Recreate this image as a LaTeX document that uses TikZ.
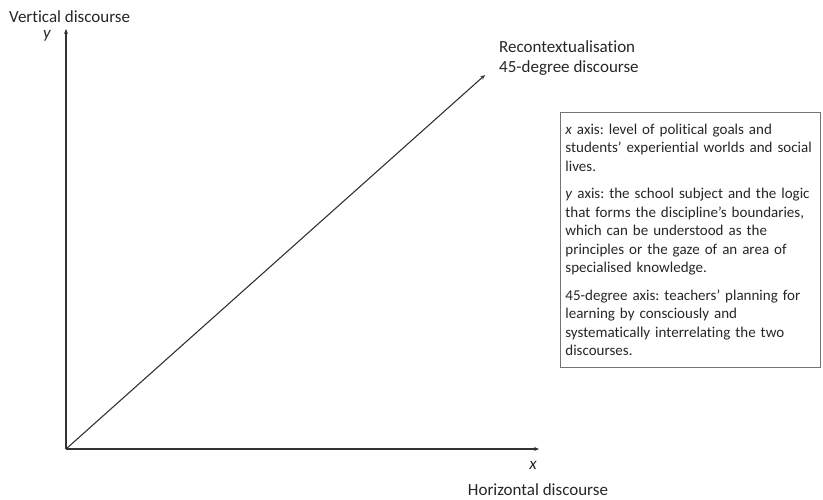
\documentclass[tikz,border=0pt]{standalone}
\usepackage{fontspec}
\setmainfont{Carlito}[Ligatures=NoCommon]
\usetikzlibrary{arrows.meta}
\frenchspacing
\hyphenpenalty=10000
\exhyphenpenalty=10000
\begin{document}
\begin{tikzpicture}[x=1pt,y=-1pt,
  axis/.style={draw=black!80, line width=1.1pt, -{Stealth[length=5pt,width=4pt]}},
  lbl/.style={inner sep=0pt, font=\fontsize{17}{20.7}\selectfont, text=black!85},
  note/.style={draw=black!55, line width=0.8pt, inner xsep=5pt, inner ysep=11.5pt,
    text width=250pt, align=left, anchor=north west,
    font=\fontsize{15}{18.5}\selectfont, text=black!85}]
  \useasboundingbox (0,0) rectangle (823,500);
  \coordinate (o) at (66,449);
  \coordinate (ytop) at (66,29);
  \coordinate (xend) at (539,449);
  \coordinate (dend) at (485,75);
  \draw[axis] (o) -- (ytop);
  \draw[axis] (o) -- (xend);
  \draw[axis] (o) -- (dend);
  \node[lbl, anchor=west] (vert) at (9,17) {Vertical discourse};
  \node[lbl, anchor=center] (ylab) at (47,36) {\itshape y};
  \node[lbl, anchor=center] (xlab) at (533,465) {\itshape x};
  \node[lbl, anchor=center] (horiz) at (538,490) {Horizontal discourse};
  \node[lbl, anchor=west, align=left] (recon) at (499,58) {Recontextualisation\\45-degree discourse};
  \node[note] (box) at (560,112) {%
    \textit{x} axis: level of political goals and\\
    students’ experiential worlds and social\\
    lives.\par\vspace{9pt}
    \textit{y} axis: the school subject and the logic\\
    that forms the discipline’s boundaries,\\
    which can be understood as the\\
    principles or the gaze of an area of\\
    specialised knowledge.\par\vspace{9pt}
    45-degree axis: teachers’ planning for\\
    learning by consciously and\\
    systematically interrelating the two\\
    discourses.};
\end{tikzpicture}
\end{document}
